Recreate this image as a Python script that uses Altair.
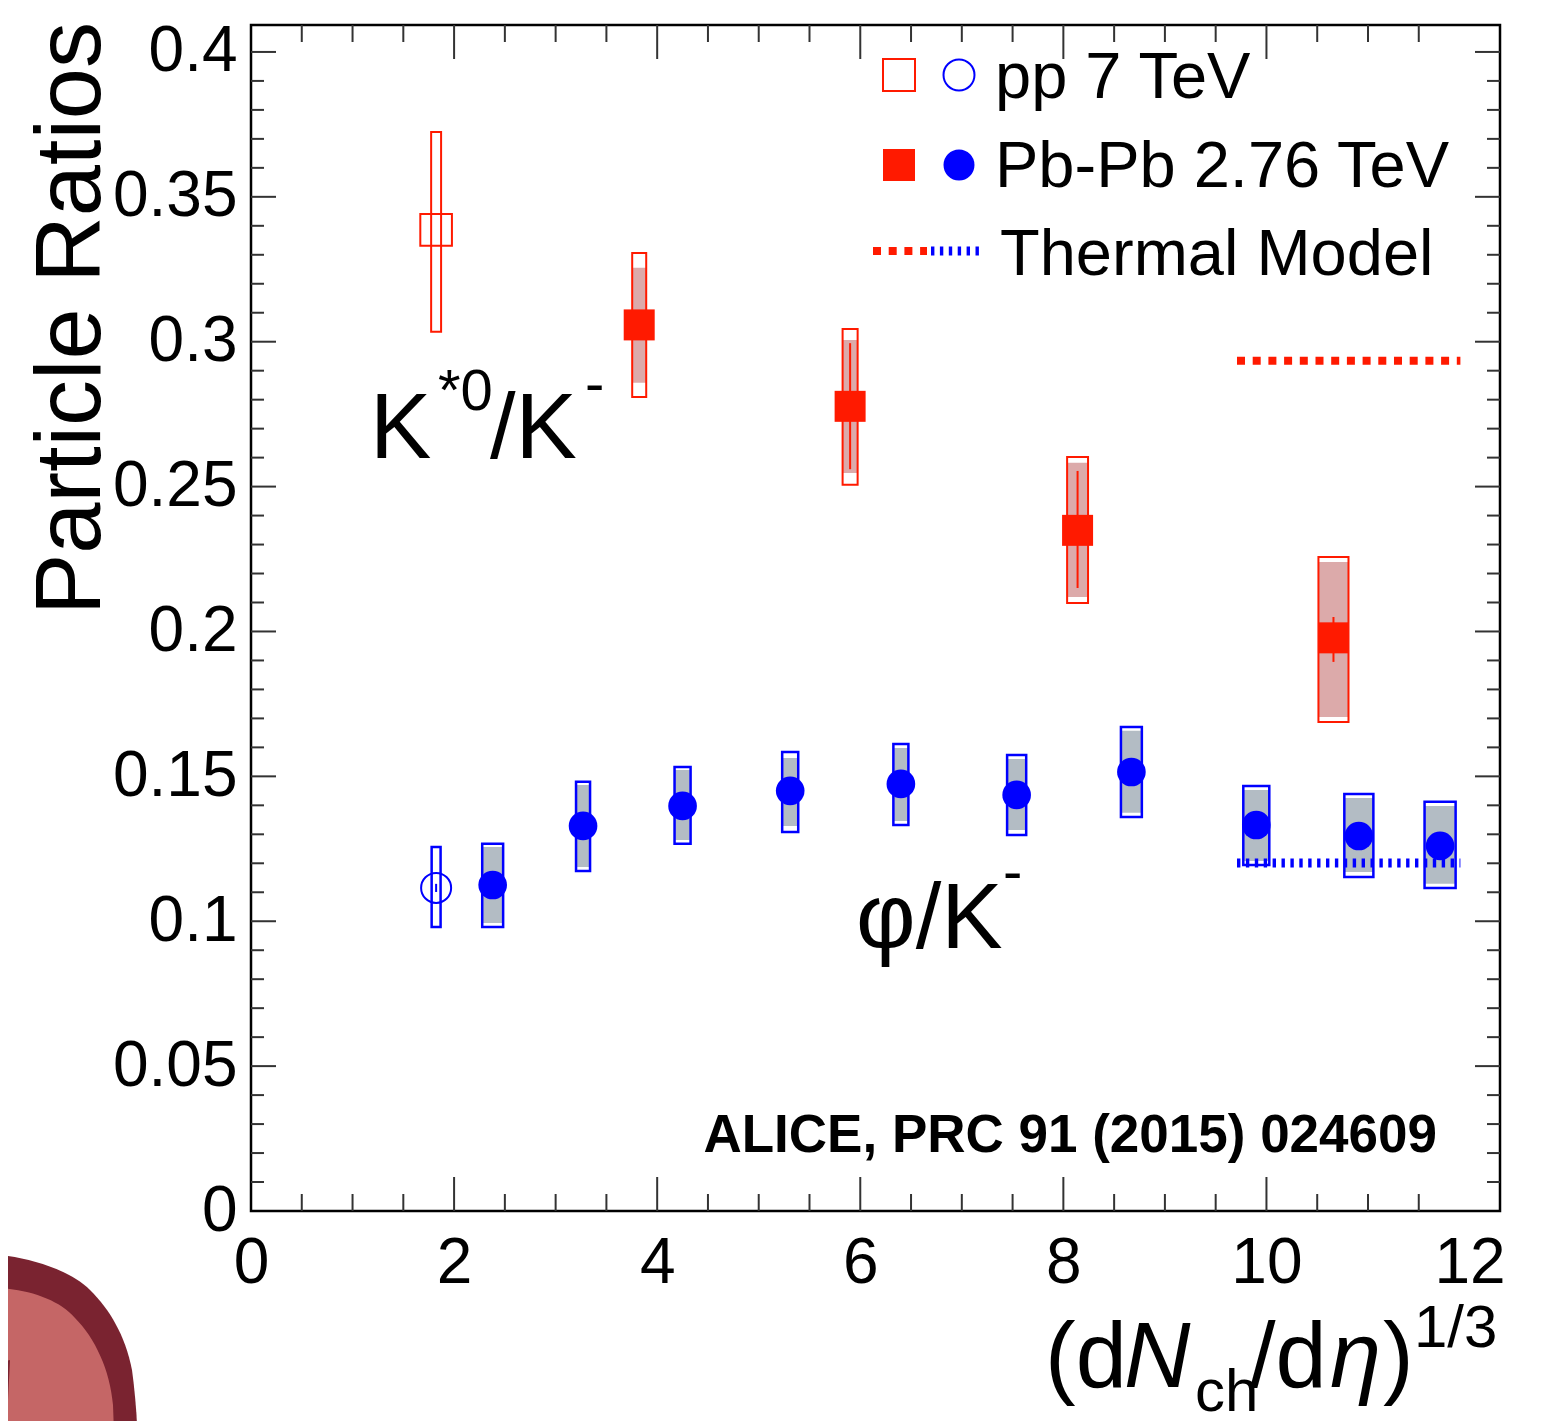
import altair as alt
import pandas as pd

FONT = "Liberation Sans"
RED = "#ff1a00"
BLUE = "#0000ff"
RED_FILL = "#dcaaaa"
BLUE_FILL = "#b3bcc4"

# ---------------- data ----------------
# K*0/K-  Pb-Pb 2.76 TeV
ks_x = [3.823, 5.90, 8.14, 10.66]
ks_xe = [0.069, 0.074, 0.103, 0.148]
ks_y = [0.3058, 0.2777, 0.2349, 0.1978]
ks_sys_lo = [0.2809, 0.2506, 0.2098, 0.1688]
ks_sys_hi = [0.3306, 0.3044, 0.2602, 0.2257]
ks_unc_lo = [0.2858, 0.2547, 0.2119, 0.1705]
ks_unc_hi = [0.3255, 0.3006, 0.2582, 0.2240]
ks_stat_lo = [0.3025, 0.2560, 0.2150, 0.1895]
ks_stat_hi = [0.3091, 0.2995, 0.2554, 0.2050]

# K*0/K-  pp 7 TeV
kspp_x = [1.823]
kspp_xe = [0.049]
kspp_y = [0.3386]
kspp_sys_lo = [0.3034]
kspp_sys_hi = [0.3724]

# phi/K-  Pb-Pb 2.76 TeV
phi_x = [2.38, 3.27, 4.25, 5.31, 6.40, 7.54, 8.67, 9.90, 10.91, 11.71]
phi_xe = [0.103, 0.069, 0.079, 0.079, 0.074, 0.094, 0.103, 0.128, 0.143, 0.153]
phi_y = [0.1125, 0.1329, 0.1398, 0.1450, 0.1474, 0.1436, 0.1515, 0.1332, 0.1294, 0.1260]
phi_sys_lo = [0.0980, 0.1173, 0.1267, 0.1308, 0.1332, 0.1298, 0.1360, 0.1194, 0.1153, 0.1115]
phi_sys_hi = [0.1267, 0.1481, 0.1532, 0.1584, 0.1612, 0.1574, 0.1670, 0.1467, 0.1439, 0.1412]
phi_unc_lo = [0.0994, 0.1187, 0.1280, 0.1329, 0.1346, 0.1315, 0.1374, 0.1208, 0.1170, 0.1129]
phi_unc_hi = [0.1256, 0.1470, 0.1522, 0.1563, 0.1598, 0.1560, 0.1657, 0.1453, 0.1425, 0.1398]

# phi/K-  pp 7 TeV
phipp_x = [1.823]
phipp_xe = [0.044]
phipp_y = [0.1115]
phipp_sys_lo = [0.0980]
phipp_sys_hi = [0.1256]
phipp_stat_lo = [0.1101]
phipp_stat_hi = [0.1129]

# Thermal model
th_x = [9.71, 11.91]
th_ks = [0.2934, 0.2934]
th_phi = [0.1201, 0.1201]

# axis ticks
x_major = [0, 2, 4, 6, 8, 10, 12]
x_minor = [0.5, 1, 1.5, 2.5, 3, 3.5, 4.5, 5, 5.5, 6.5, 7, 7.5, 8.5, 9, 9.5,
           10.5, 11, 11.5]
y_major = [0, 0.05, 0.1, 0.15, 0.2, 0.25, 0.3, 0.35, 0.4]
y_minor = [round(0.01 * i, 2) for i in range(0, 41) if i % 5 != 0]

# ---------------- layout ----------------
W, H = 1249, 1186
XDOM = [0, 12.3]
YDOM = [0, 0.4093]

def xenc(field):
    return alt.X(field, type="quantitative",
                 scale=alt.Scale(domain=XDOM, nice=False, zero=False),
                 axis=alt.Axis(values=x_major, ticks=False, tickSize=0, domain=False,
                               grid=False, labelFont=FONT, labelFontSize=64,
                               labelColor="black", labelPadding=20, labelFlush=False,
                               labelOverlap=False, title=None))

def yenc(field):
    return alt.Y(field, type="quantitative",
                 scale=alt.Scale(domain=YDOM, nice=False, zero=False),
                 axis=alt.Axis(values=y_major, ticks=False, tickSize=0, domain=False,
                               grid=False, labelFont=FONT, labelFontSize=64,
                               labelColor="black", labelPadding=14, format="~g",
                               labelFlush=False, labelOverlap=False, title=None))

ks_df = pd.DataFrame(dict(x=ks_x, xe=ks_xe, y=ks_y, sys_lo=ks_sys_lo, sys_hi=ks_sys_hi,
                          unc_lo=ks_unc_lo, unc_hi=ks_unc_hi,
                          stat_lo=ks_stat_lo, stat_hi=ks_stat_hi))
kspp_df = pd.DataFrame(dict(x=kspp_x, xe=kspp_xe, y=kspp_y,
                            sys_lo=kspp_sys_lo, sys_hi=kspp_sys_hi))
phi_df = pd.DataFrame(dict(x=phi_x, xe=phi_xe, y=phi_y, sys_lo=phi_sys_lo,
                           sys_hi=phi_sys_hi, unc_lo=phi_unc_lo, unc_hi=phi_unc_hi))
phipp_df = pd.DataFrame(dict(x=phipp_x, xe=phipp_xe, y=phipp_y,
                             sys_lo=phipp_sys_lo, sys_hi=phipp_sys_hi,
                             stat_lo=phipp_stat_lo, stat_hi=phipp_stat_hi))
th_df = pd.DataFrame(dict(x=th_x, ks=th_ks, phi=th_phi))

def with_edges(df):
    return alt.Chart(df).transform_calculate(xl="datum.x - datum.xe",
                                             xr="datum.x + datum.xe")

layers = []

# shaded (uncorrelated) boxes
for df, fill in [(ks_df, RED_FILL), (phi_df, BLUE_FILL)]:
    layers.append(with_edges(df).mark_rect(fill=fill, strokeWidth=0).encode(
        x=xenc("xl"), x2="xr", y=yenc("unc_lo"), y2="unc_hi"))

# open (total systematic) boxes
for df, col, sw in [(ks_df, RED, 2), (kspp_df, RED, 2), (phi_df, BLUE, 2.5),
                    (phipp_df, BLUE, 2.5)]:
    layers.append(with_edges(df).mark_rect(fillOpacity=0, stroke=col,
                                           strokeWidth=sw).encode(
        x=xenc("xl"), x2="xr", y=yenc("sys_lo"), y2="sys_hi"))

# statistical error lines
for df, col in [(ks_df, RED), (phipp_df, BLUE)]:
    layers.append(alt.Chart(df).mark_rule(color=col, strokeWidth=2).encode(
        x=xenc("x"), y=yenc("stat_lo"), y2="stat_hi"))

# markers
layers.append(alt.Chart(ks_df).mark_point(shape="square", filled=True, fill=RED,
                                          strokeWidth=0, size=961, opacity=1).encode(
    x=xenc("x"), y=yenc("y")))
layers.append(alt.Chart(kspp_df).mark_point(shape="square", filled=False, stroke=RED,
                                            strokeWidth=2, size=1000, opacity=1).encode(
    x=xenc("x"), y=yenc("y")))
layers.append(alt.Chart(phi_df).mark_point(shape="circle", filled=True, fill=BLUE,
                                           strokeWidth=0, size=820, opacity=1).encode(
    x=xenc("x"), y=yenc("y")))
layers.append(alt.Chart(phipp_df).mark_point(shape="circle", filled=False, stroke=BLUE,
                                             strokeWidth=2, size=900, opacity=1).encode(
    x=xenc("x"), y=yenc("y")))

# thermal model lines
layers.append(alt.Chart(th_df).mark_line(color=RED, strokeWidth=8,
                                         strokeDash=[8, 7.7]).encode(
    x=xenc("x"), y=yenc("ks")))
layers.append(alt.Chart(th_df).mark_line(color=BLUE, strokeWidth=9,
                                         strokeDash=[3.4, 5.5]).encode(
    x=xenc("x"), y=yenc("phi")))

# axis ticks (inward)
TICK = "#333333"
xmaj = pd.DataFrame({"v": x_major[1:-1]})
xmin = pd.DataFrame({"v": x_minor})
ymaj = pd.DataFrame({"v": y_major[1:]})
ymin = pd.DataFrame({"v": y_minor})
for df, ln in [(xmaj, 34), (xmin, 17)]:
    layers.append(alt.Chart(df).mark_rule(color=TICK, strokeWidth=2).encode(
        x=xenc("v"), y=alt.value(H), y2=alt.value(H - ln)))
    layers.append(alt.Chart(df).mark_rule(color=TICK, strokeWidth=2).encode(
        x=xenc("v"), y=alt.value(0), y2=alt.value(ln)))
for df, ln in [(ymaj, 25), (ymin, 13)]:
    layers.append(alt.Chart(df).mark_rule(color=TICK, strokeWidth=2).encode(
        y=yenc("v"), x=alt.value(0), x2=alt.value(ln)))
    layers.append(alt.Chart(df).mark_rule(color=TICK, strokeWidth=2).encode(
        y=yenc("v"), x=alt.value(W), x2=alt.value(W - ln)))

one = pd.DataFrame({"k": [0]})

def label(txt, px, py, size, weight="normal", style="normal", align="left",
          baseline="alphabetic", angle=0):
    return alt.Chart(one).mark_text(text=txt, font=FONT, fontSize=size,
                                    fontWeight=weight, fontStyle=style, align=align,
                                    baseline=baseline, angle=angle,
                                    color="black").encode(
        x=alt.value(px), y=alt.value(py))

# y title
layers.append(label("Particle Ratios", -151, -3, 92, align="right", angle=270))

# x title  (dN_ch/d eta)^(1/3)
layers.append(label("(d", 794, 1362, 92))
layers.append(label("N", 873, 1362, 92, style="italic"))
layers.append(label("ch", 944, 1386, 60))
layers.append(label("/d", 999, 1362, 92))
layers.append(label("η", 1079, 1362, 92, style="italic"))
layers.append(label(")", 1132, 1362, 92))
layers.append(label("1/3", 1163, 1322, 60))

# series labels
layers.append(label("K", 119, 433, 92))
layers.append(label("*0", 187, 385, 58))
layers.append(label("/K", 239, 433, 92))
layers.append(label("-", 334, 378, 58))
layers.append(label("φ/K", 605, 923, 92))
layers.append(label("-", 752, 866, 58))

# reference
layers.append(label("ALICE, PRC 91 (2015) 024609", 1186, 1127, 53, weight="bold",
                    align="right"))

# legend
layers.append(alt.Chart(one).mark_point(shape="square", filled=False, stroke=RED,
                                        strokeWidth=2, size=1024, opacity=1).encode(
    x=alt.value(648), y=alt.value(50)))
layers.append(alt.Chart(one).mark_point(shape="circle", filled=False, stroke=BLUE,
                                        strokeWidth=2, size=960, opacity=1).encode(
    x=alt.value(708), y=alt.value(50)))
layers.append(label("pp 7 TeV", 744, 73, 65))
layers.append(alt.Chart(one).mark_point(shape="square", filled=True, fill=RED,
                                        strokeWidth=0, size=1024, opacity=1).encode(
    x=alt.value(648), y=alt.value(140)))
layers.append(alt.Chart(one).mark_point(shape="circle", filled=True, fill=BLUE,
                                        strokeWidth=0, size=960, opacity=1).encode(
    x=alt.value(708), y=alt.value(140)))
layers.append(label("Pb-Pb 2.76 TeV", 744, 162, 65))
layers.append(alt.Chart(one).mark_rule(color=RED, strokeWidth=8,
                                       strokeDash=[8, 7.7]).encode(
    x=alt.value(622), x2=alt.value(676), y=alt.value(226)))
layers.append(alt.Chart(one).mark_rule(color=BLUE, strokeWidth=9,
                                       strokeDash=[3.4, 5.5]).encode(
    x=alt.value(680), x2=alt.value(733), y=alt.value(226)))
layers.append(label("Thermal Model", 749, 250, 65))

# decorative corner shape (slide background)
OUTER = ("M -0.8 -1.05 L -0.6 -1.05 C -0.3 -1.02 0.1 -0.9 0.3 -0.7 "
         "C 0.5 -0.5 0.65 -0.25 0.72 0.1 C 0.76 0.4 0.78 0.7 0.78 1.0 L -0.8 1.0 Z")
INNER = ("M -0.8 -0.72 L -0.6 -0.72 C -0.3 -0.7 0.0 -0.6 0.15 -0.42 "
         "C 0.35 -0.22 0.5 0.1 0.53 0.45 L 0.55 1.0 L -0.55 1.0 L -0.5 0.0 "
         "L -0.8 0.06 Z")
layers.append(alt.Chart(one).mark_point(shape=OUTER, filled=True, fill="#7a2330",
                                        strokeWidth=0, size=40000, opacity=1).encode(
    x=alt.value(-191), y=alt.value(1335)))
layers.append(alt.Chart(one).mark_point(shape=INNER, filled=True, fill="#c56666",
                                        strokeWidth=0, size=40000, opacity=1).encode(
    x=alt.value(-191), y=alt.value(1335)))

chart = alt.layer(*layers).properties(
    width=W, height=H,
    padding={"left": 243, "top": 17, "right": 55, "bottom": 215},
    autosize=alt.AutoSizeParams(type="none"),
    background="white",
).configure_view(stroke="black", strokeWidth=2.5)

chart.save("out.html", embed_options={"renderer": "svg", "actions": False})
